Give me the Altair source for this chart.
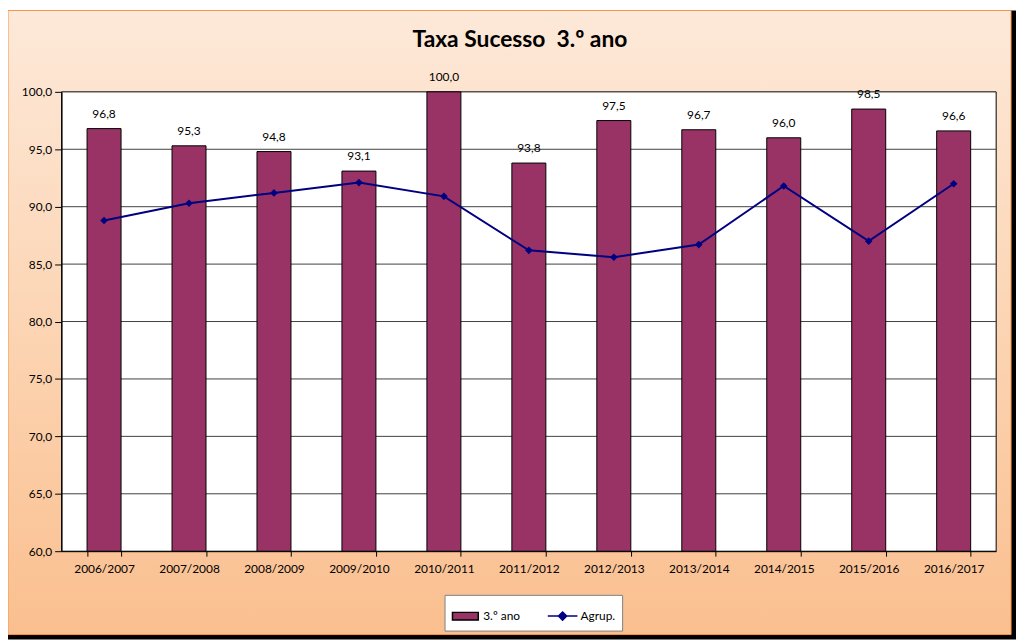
import altair as alt
import pandas as pd

# ---- data ----
years = ["2006/2007", "2007/2008", "2008/2009", "2009/2010", "2010/2011",
         "2011/2012", "2012/2013", "2013/2014", "2014/2015", "2015/2016", "2016/2017"]
ano3 = [96.8, 95.3, 94.8, 93.1, 100.0, 93.8, 97.5, 96.7, 96.0, 98.5, 96.6]
agrup = [88.8, 90.3, 91.2, 92.1, 90.9, 86.2, 85.6, 86.7, 91.8, 87.0, 92.0]
series_names = ["3.º ano", "Agrup."]
y_ticks = [60, 65, 70, 75, 80, 85, 90, 95, 100]
grid_vals = [65, 70, 75, 80, 85, 90, 95]
y_base = 60

df = pd.DataFrame({"ano": years, "v3": ano3, "ag": agrup})
df_grid = pd.DataFrame({"g": grid_vals})
df_leg = pd.DataFrame({"s": series_names})
df_one = pd.DataFrame({"k": [0]})

W, H = 942, 463
FONT = "Lato"

xenc = alt.X("ano:N", sort=years, title=None,
             scale=alt.Scale(paddingInner=0.6, paddingOuter=0.3),
             axis=alt.Axis(tickBand="extent", tickSize=5, labelPadding=7, labelAngle=0,
                           labelFontSize=12, labelFont=FONT, labelColor="#000000",
                           domainColor="#000000", tickColor="#000000", grid=False, zindex=1))
yscale = alt.Scale(domain=[60, 100], nice=False, zero=False)
yenc = alt.Y("v3:Q", scale=yscale, title=None,
             axis=alt.Axis(values=y_ticks, grid=False, tickSize=7, labelPadding=3,
                           labelExpr="replace(format(datum.value, '.1f'), '.', ',')",
                           labelFontSize=12, labelFont=FONT, labelColor="#000000",
                           domainColor="#000000", tickColor="#000000", zindex=1))

# decorative frame: shadow, gradient background, white plot area
shadow = alt.Chart(df_one).mark_rect(color="#000000").encode(
    x=alt.value(-54), x2=alt.value(962), y=alt.value(-82), y2=alt.value(552))
grad = alt.Gradient(gradient="linear", x1=0, y1=0, x2=0, y2=1, stops=[
    alt.GradientStop(color="#FDE9D9", offset=0),
    alt.GradientStop(color="#FCD5B4", offset=0.5),
    alt.GradientStop(color="#FABF8F", offset=1)])
bg = alt.Chart(df_one).mark_rect(color=grad, stroke="#F79646", strokeWidth=1).encode(
    x=alt.value(-54), x2=alt.value(957), y=alt.value(-82), y2=alt.value(547))
plotbg = alt.Chart(df_one).mark_rect(color="#FFFFFF", stroke="#000000", strokeWidth=1).encode(
    x=alt.value(0), x2=alt.value("width"), y=alt.value(0), y2=alt.value("height"))

grid = alt.Chart(df_grid).mark_rule(color="#404040", strokeWidth=1).encode(
    y=alt.Y("g:Q", scale=yscale))

bars = alt.Chart(df).mark_bar(color="#993366", stroke="#000000", strokeWidth=1).encode(
    x=xenc, y=yenc, y2=alt.datum(y_base))

labels = alt.Chart(df).transform_calculate(
    lbl="replace(format(datum.v3, '.1f'), '.', ',')"
).mark_text(baseline="alphabetic", dy=-11, fontSize=12, font=FONT, color="#000000").encode(
    x=alt.X("ano:N", sort=years), y=alt.Y("v3:Q", scale=yscale), text="lbl:N")

line = alt.Chart(df).mark_line(color="#000080", strokeWidth=2).encode(
    x=alt.X("ano:N", sort=years), y=alt.Y("ag:Q", scale=yscale))
pts = alt.Chart(df).mark_point(shape="diamond", filled=True, color="#000080", size=60, opacity=1).encode(
    x=alt.X("ano:N", sort=years), y=alt.Y("ag:Q", scale=yscale))

rect_path = "M-1,-0.3L1,-0.3L1,0.3L-1,0.3Z"
line_path = "M-1.15,0L1.15,0M0,-0.32L0.32,0L0,0.32L-0.32,0Z"
leg = alt.Legend(title=None, orient="none", legendX=386, legendY=507, direction="horizontal",
                 fillColor="#FFFFFF", strokeColor="#808080", padding=7, columnPadding=24,
                 labelFontSize=12, labelFont=FONT, labelColor="#000000",
                 symbolSize=676, symbolStrokeWidth=1.5, symbolOpacity=1, labelOffset=4)
legend_layer = alt.Chart(df_leg).transform_filter("false").mark_point(filled=True, opacity=1).encode(
    fill=alt.Fill("s:N", scale=alt.Scale(domain=series_names, range=["#993366", "#000080"]), legend=leg),
    stroke=alt.Stroke("s:N", scale=alt.Scale(domain=series_names, range=["#000000", "#000080"]), legend=leg),
    shape=alt.Shape("s:N", scale=alt.Scale(domain=series_names, range=[rect_path, line_path]), legend=leg),
)

chart = alt.layer(shadow, bg, plotbg, grid, bars, labels, line, pts, legend_layer).properties(
    width=W, height=H,
    title=alt.TitleParams("Taxa Sucesso\u00a0 3.º ano", fontSize=23, font=FONT, fontWeight="bold",
                          color="#000000", anchor="middle", frame="group", offset=0,
                          baseline="alphabetic", dx=-9, dy=60),
    padding={"left": 54, "top": 82, "right": 20, "bottom": 89},
    autosize=alt.AutoSizeParams(type="none"),
).configure_view(stroke=None, fill=None).resolve_scale(y="shared")

chart.save("out.html", embed_options={"renderer": "svg", "actions": False})
